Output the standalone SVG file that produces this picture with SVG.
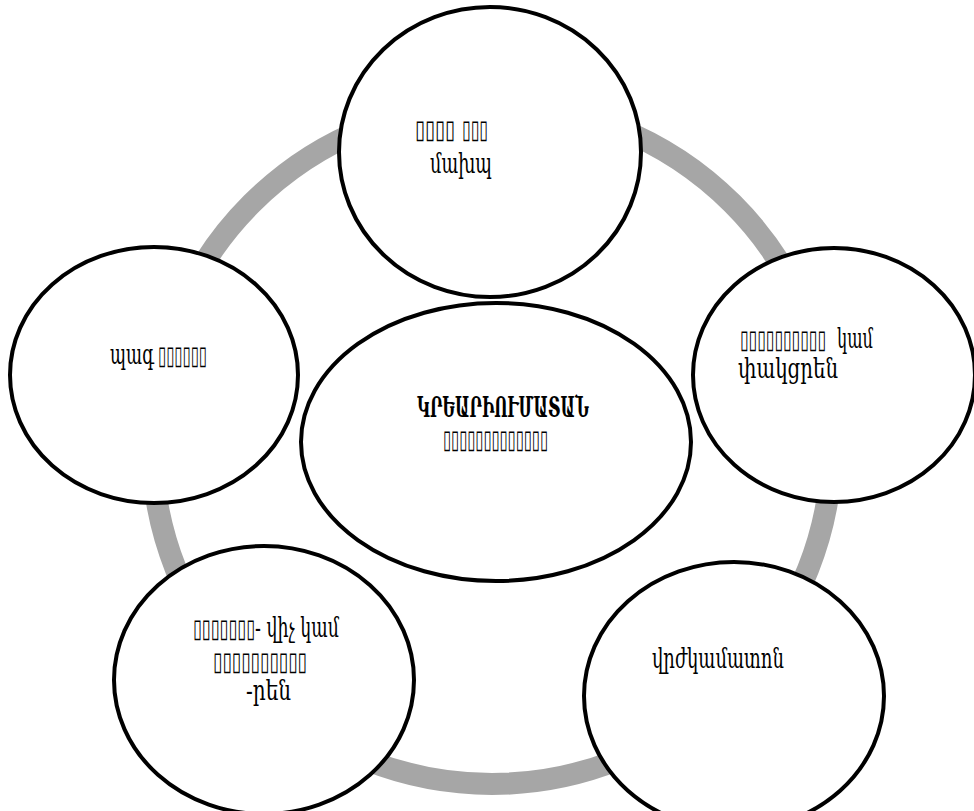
<svg xmlns="http://www.w3.org/2000/svg" width="974" height="811" viewBox="0 0 974 811">
<style>
.node{fill:#ffffff;stroke:#000000;stroke-width:4}
.ring{fill:none;stroke:#a6a6a6;stroke-width:22}
.hy{font-family:"DejaVu Serif","DejaVu Sans","Liberation Serif",serif;font-size:27px;fill:#000}
.bx{font-family:"DejaVu Sans","Liberation Sans",sans-serif;font-size:26px;fill:#000}
</style>
<rect width="974" height="811" fill="#ffffff"/>
<g id="connectors">
<circle class="ring" cx="492" cy="444" r="340"/>
</g>
<g id="node-top">
<ellipse class="node" cx="490" cy="152" rx="151" ry="145"/>
<text class="bx" y="138"><tspan x="415" textLength="40" lengthAdjust="spacingAndGlyphs">▯▯▯▯</tspan><tspan x="462" textLength="26" lengthAdjust="spacingAndGlyphs">▯▯▯</tspan></text>
<text class="hy" x="430" y="173" textLength="62" lengthAdjust="spacingAndGlyphs">մախպ</text>
</g>
<g id="node-right">
<ellipse class="node" cx="834" cy="375" rx="141" ry="127"/>
<text y="348"><tspan class="bx" x="740" textLength="86" lengthAdjust="spacingAndGlyphs">▯▯▯▯▯▯▯▯▯▯</tspan><tspan class="hy" x="837" textLength="36" lengthAdjust="spacingAndGlyphs">կամ</tspan></text>
<text class="hy" x="738" y="378" textLength="100" lengthAdjust="spacingAndGlyphs">փակցրեն</text>
</g>
<g id="node-left">
<ellipse class="node" cx="154" cy="375" rx="144" ry="128"/>
<text y="364"><tspan class="hy" x="110" textLength="44" lengthAdjust="spacingAndGlyphs">պագ</tspan><tspan class="bx" x="158" font-size="22" textLength="49" lengthAdjust="spacingAndGlyphs">▯▯▯▯▯▯</tspan></text>
</g>
<g id="node-center">
<ellipse class="node" cx="496" cy="442" rx="195" ry="139"/>
<text class="hy" x="417" y="417" font-size="30" font-weight="bold" textLength="172" lengthAdjust="spacingAndGlyphs">ԿՐԵԱՐԻՈՒՄԱՏԱՆ</text>
<text class="bx" x="443" y="448" font-size="22" textLength="105" lengthAdjust="spacingAndGlyphs">▯▯▯▯▯▯▯▯▯▯▯▯▯</text>
</g>
<g id="node-bottom-left">
<ellipse class="node" cx="264" cy="680" rx="150" ry="134"/>
<text y="637"><tspan class="bx" x="193" textLength="62" lengthAdjust="spacingAndGlyphs">▯▯▯▯▯▯▯</tspan><tspan class="hy" x="255" textLength="84" lengthAdjust="spacingAndGlyphs">- վիչ կամ</tspan></text>
<text class="bx" x="213" y="670" font-size="24" textLength="94" lengthAdjust="spacingAndGlyphs">▯▯▯▯▯▯▯▯▯▯</text>
<text class="hy" x="246" y="700" textLength="45" lengthAdjust="spacingAndGlyphs">-րեն</text>
</g>
<g id="node-bottom-right">
<ellipse class="node" cx="734" cy="696" rx="150" ry="134"/>
<text class="hy" x="652" y="668" textLength="132" lengthAdjust="spacingAndGlyphs">վրժկամատոն</text>
</g>
</svg>
